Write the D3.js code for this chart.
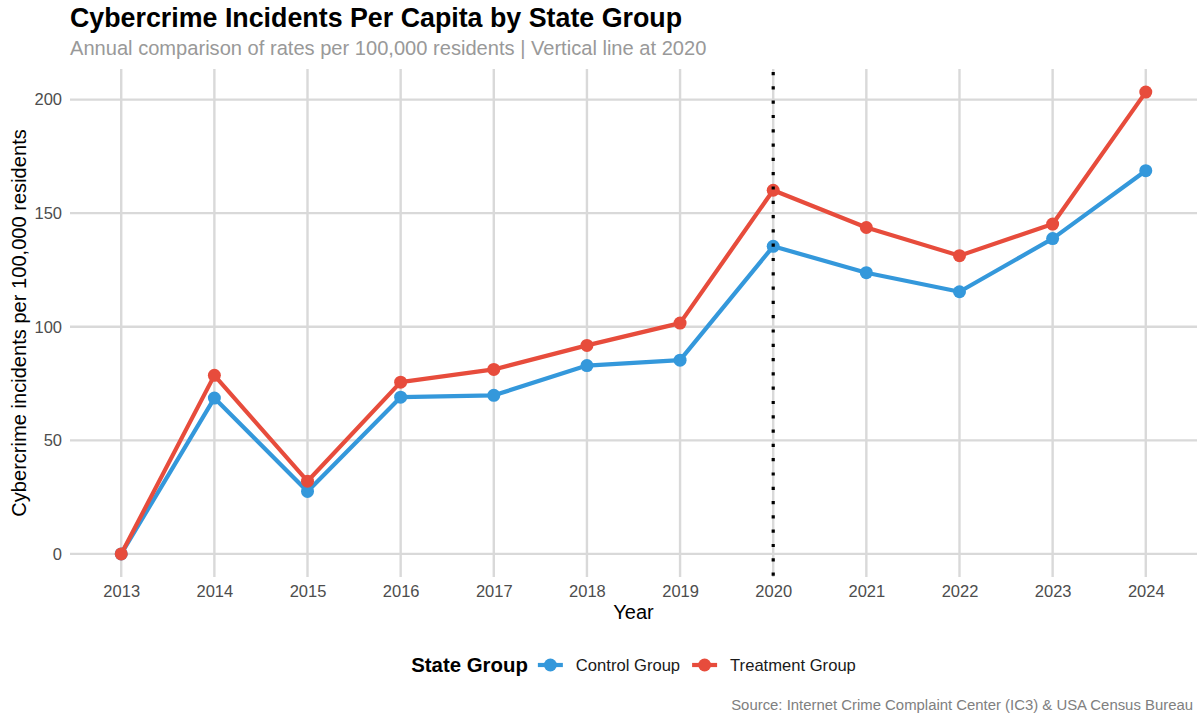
<!DOCTYPE html>
<html>
<head>
<meta charset="utf-8">
<script src="https://cdn.jsdelivr.net/npm/d3@7.9.0/dist/d3.min.js"></script>
<style>
  body { margin: 0; background: #fff; }
  svg { display: block; font-family: "Liberation Sans", Arial, sans-serif; }
</style>
</head>
<body>
<div id="chart"></div>
<script>
const years = [2013, 2014, 2015, 2016, 2017, 2018, 2019, 2020, 2021, 2022, 2023, 2024];
const control = [0, 68.6, 27.5, 69.0, 69.8, 82.9, 85.3, 135.4, 123.8, 115.4, 138.8, 168.7];
const treatment = [0, 78.6, 32.0, 75.6, 81.2, 91.8, 101.6, 160.1, 143.7, 131.3, 145.2, 203.3];
const yTicks = [0, 50, 100, 150, 200];
const cutYear = 2020;

const series = [
  { name: 'Control Group', color: '#3498db', values: control },
  { name: 'Treatment Group', color: '#e74c3c', values: treatment },
];

const width = 1198;
const height = 716;
const panel = { left: 70, right: 1197, top: 69, bottom: 577 };

const svg = d3.select('#chart')
  .append('svg')
  .attr('width', width)
  .attr('height', height);

const x = d3.scaleLinear()
  .domain([years[0] - 0.55, years[years.length - 1] + 0.55])
  .range([panel.left, panel.right]);

const yMax = d3.max(treatment);
const y = d3.scaleLinear()
  .domain([-yMax * 0.05, yMax * 1.05])
  .range([panel.bottom, panel.top]);

// gridlines
const grid = svg.append('g').attr('class', 'grid');
grid.selectAll('line.h')
  .data(yTicks)
  .join('line')
  .attr('class', 'h')
  .attr('x1', panel.left).attr('x2', panel.right)
  .attr('y1', (d) => y(d)).attr('y2', (d) => y(d))
  .attr('stroke', '#d9d9d9')
  .attr('stroke-width', 2.4);
grid.selectAll('line.v')
  .data(years)
  .join('line')
  .attr('class', 'v')
  .attr('x1', (d) => x(d)).attr('x2', (d) => x(d))
  .attr('y1', panel.top).attr('y2', panel.bottom)
  .attr('stroke', '#d9d9d9')
  .attr('stroke-width', 2.4);

// axes (text only)
const yAxis = d3.axisLeft(y).tickValues(yTicks).tickSize(0).tickPadding(8);
svg.append('g')
  .attr('transform', `translate(${panel.left},0)`)
  .call(yAxis)
  .call((g) => g.select('.domain').remove())
  .call((g) => g.selectAll('text')
    .attr('fill', '#4d4d4d')
    .style('font-size', '16.5px')
    .style('font-family', '"Liberation Sans", Arial, sans-serif'));

const xAxis = d3.axisBottom(x).tickValues(years).tickFormat(d3.format('d')).tickSize(0).tickPadding(8);
svg.append('g')
  .attr('transform', `translate(0,${panel.bottom})`)
  .call(xAxis)
  .call((g) => g.select('.domain').remove())
  .call((g) => g.selectAll('text')
    .attr('fill', '#4d4d4d')
    .style('font-size', '16.5px')
    .style('font-family', '"Liberation Sans", Arial, sans-serif'));

// lines and points
const line = d3.line()
  .x((d, i) => x(years[i]))
  .y((d) => y(d));

const groups = svg.append('g').selectAll('g.series')
  .data(series)
  .join('g')
  .attr('class', 'series');

groups.append('path')
  .attr('d', (s) => line(s.values))
  .attr('fill', 'none')
  .attr('stroke', (s) => s.color)
  .attr('stroke-width', 4.2)
  .attr('stroke-linejoin', 'round');

groups.selectAll('circle')
  .data((s) => s.values.map((v, i) => ({ v, year: years[i], color: s.color })))
  .join('circle')
  .attr('cx', (d) => x(d.year))
  .attr('cy', (d) => y(d.v))
  .attr('r', 6.5)
  .attr('fill', (d) => d.color);

// vertical reference line
svg.append('line')
  .attr('x1', x(cutYear)).attr('x2', x(cutYear))
  .attr('y1', panel.top + 3).attr('y2', panel.bottom)
  .attr('stroke', '#000')
  .attr('stroke-width', 3.2)
  .attr('stroke-dasharray', '3.2 11.1');

// titles
svg.append('text')
  .attr('x', panel.left).attr('y', 27)
  .style('font-size', '26.8px').style('font-weight', 'bold')
  .attr('fill', '#000')
  .text('Cybercrime Incidents Per Capita by State Group');

svg.append('text')
  .attr('x', panel.left).attr('y', 55)
  .style('font-size', '20.1px')
  .attr('fill', '#999999')
  .text('Annual comparison of rates per 100,000 residents | Vertical line at 2020');

svg.append('text')
  .attr('x', (panel.left + panel.right) / 2).attr('y', 619)
  .attr('text-anchor', 'middle')
  .style('font-size', '20px')
  .attr('fill', '#000')
  .text('Year');

svg.append('text')
  .attr('transform', `translate(26,${(panel.top + panel.bottom) / 2}) rotate(-90)`)
  .attr('text-anchor', 'middle')
  .style('font-size', '20.1px')
  .attr('fill', '#000')
  .text('Cybercrime incidents per 100,000 residents');

svg.append('text')
  .attr('x', 1193).attr('y', 710)
  .attr('text-anchor', 'end')
  .style('font-size', '14.9px')
  .attr('fill', '#808080')
  .text('Source: Internet Crime Complaint Center (IC3) & USA Census Bureau');

// legend
const legend = svg.append('g');
const legendY = 665;
const lt = legend.append('text')
  .attr('x', 0).attr('y', legendY).attr('dy', '0.35em')
  .style('font-size', '20.4px').style('font-weight', 'bold')
  .attr('fill', '#000')
  .text('State Group');
let cx = lt.node().getComputedTextLength() + 10;
series.forEach((s) => {
  legend.append('line')
    .attr('x1', cx).attr('x2', cx + 25)
    .attr('y1', legendY).attr('y2', legendY)
    .attr('stroke', s.color).attr('stroke-width', 4.2);
  legend.append('circle')
    .attr('cx', cx + 12.5).attr('cy', legendY).attr('r', 6.5)
    .attr('fill', s.color);
  const t = legend.append('text')
    .attr('x', cx + 38).attr('y', legendY).attr('dy', '0.35em')
    .style('font-size', '16.6px')
    .attr('fill', '#1a1a1a')
    .text(s.name);
  cx += 38 + t.node().getComputedTextLength() + 12;
});
const legendWidth = cx - 12;
legend.attr('transform', `translate(${(panel.left + panel.right) / 2 - legendWidth / 2},0)`);
</script>
</body>
</html>
